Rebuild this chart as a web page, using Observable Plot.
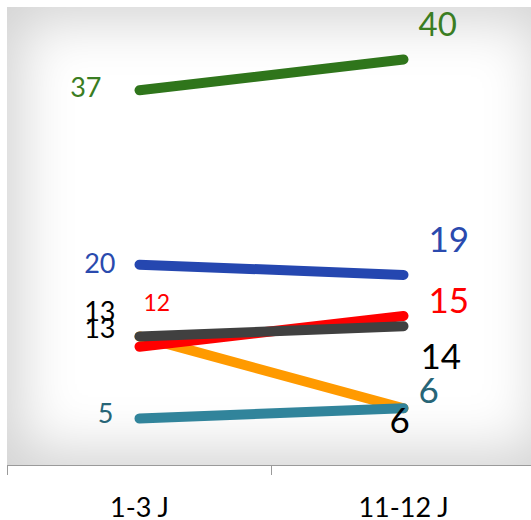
<!DOCTYPE html>
<html><head><meta charset="utf-8">
<script src="https://cdn.jsdelivr.net/npm/d3@7"></script>
<script src="https://cdn.jsdelivr.net/npm/@observablehq/plot@0.6"></script>
<style>
html,body{margin:0;padding:0;background:#fff;overflow:hidden;}
#wrap{position:relative;width:531px;height:520px;overflow:hidden;}
#bg{position:absolute;left:7px;top:7px;width:545px;height:458px;background:#fff;box-shadow:inset 0 0 55px 14px #d3d3d3;}
#chart{position:absolute;left:0;top:0;}
</style></head><body>
<div id="wrap"><div id="bg"></div><div id="chart"></div></div>
<script>
// ---- data ----
const periods = ["1-3 J", "11-12 J"];
const series = ["S1", "S2", "S3", "S4", "S5", "S6"];
const startValues = [13, 5, 12, 13, 20, 37];
const endValues = [6, 6, 15, 14, 19, 40];

// ---- styles ----
const lineColors = ["#ff9a00", "#31849b", "#ff0000", "#404040", "#2547b0", "#2f751b"];
const labelColors = ["#000000", "#276577", "#ff0000", "#000000", "#2a4aae", "#3a7d22"];
// label layout: [anchor, dx, dy, fontSize]
const leftLayout = [["end",-24,2,27],["end",-26,4,27],["start",4,-36,23],["end",-24,-15,27],["end",-24,8,27],["end",-38,7,27]];
const rightLayout = [["start",-14,25,35],["start",15,-5,35],["start",25,-3,35],["start",17,43,35],["start",25,-23,35],["start",15,-23,33]];

const rows = [];
series.forEach((s, i) => {
  rows.push({series: s, period: periods[0], value: startValues[i]});
  rows.push({series: s, period: periods[1], value: endValues[i]});
});

const labelMarks = [];
series.forEach((s, i) => {
  [[periods[0], startValues[i], leftLayout[i]], [periods[1], endValues[i], rightLayout[i]]].forEach(([p, v, L]) => {
    labelMarks.push(Plot.text([{period: p, value: v}], {
      x: "period", y: "value", text: d => String(d.value),
      fill: labelColors[i], fontSize: L[3], textAnchor: L[0], dx: L[1], dy: L[2],
      lineAnchor: "bottom"
    }));
  });
});

const chart = Plot.plot({
  width: 531, height: 520,
  marginTop: 0, marginLeft: 7, marginRight: 0, marginBottom: 55,
  style: {background: "transparent", fontFamily: "Lato"},
  x: {type: "band", domain: periods, range: [7, 535], padding: 0, label: null},
  y: {domain: [0, 45], range: [469.3, 7.7], label: null, axis: null},
  color: {domain: series, range: lineColors},
  marks: [
    Plot.frame({anchor: "bottom", stroke: "#9a9a9a"}),
    Plot.axisX({tickSize: 10, tickFormat: () => "", dx: -132, stroke: "#9a9a9a", label: null}),
    Plot.axisX({tickSize: 0, tickPadding: 32, fontSize: 27, fill: "#000", label: null}),
    Plot.line(rows, {x: "period", y: "value", z: "series", stroke: "series", strokeWidth: 10, strokeLinecap: "round"}),
    ...labelMarks
  ]
});
document.getElementById("chart").appendChild(chart);
</script>
</body></html>
